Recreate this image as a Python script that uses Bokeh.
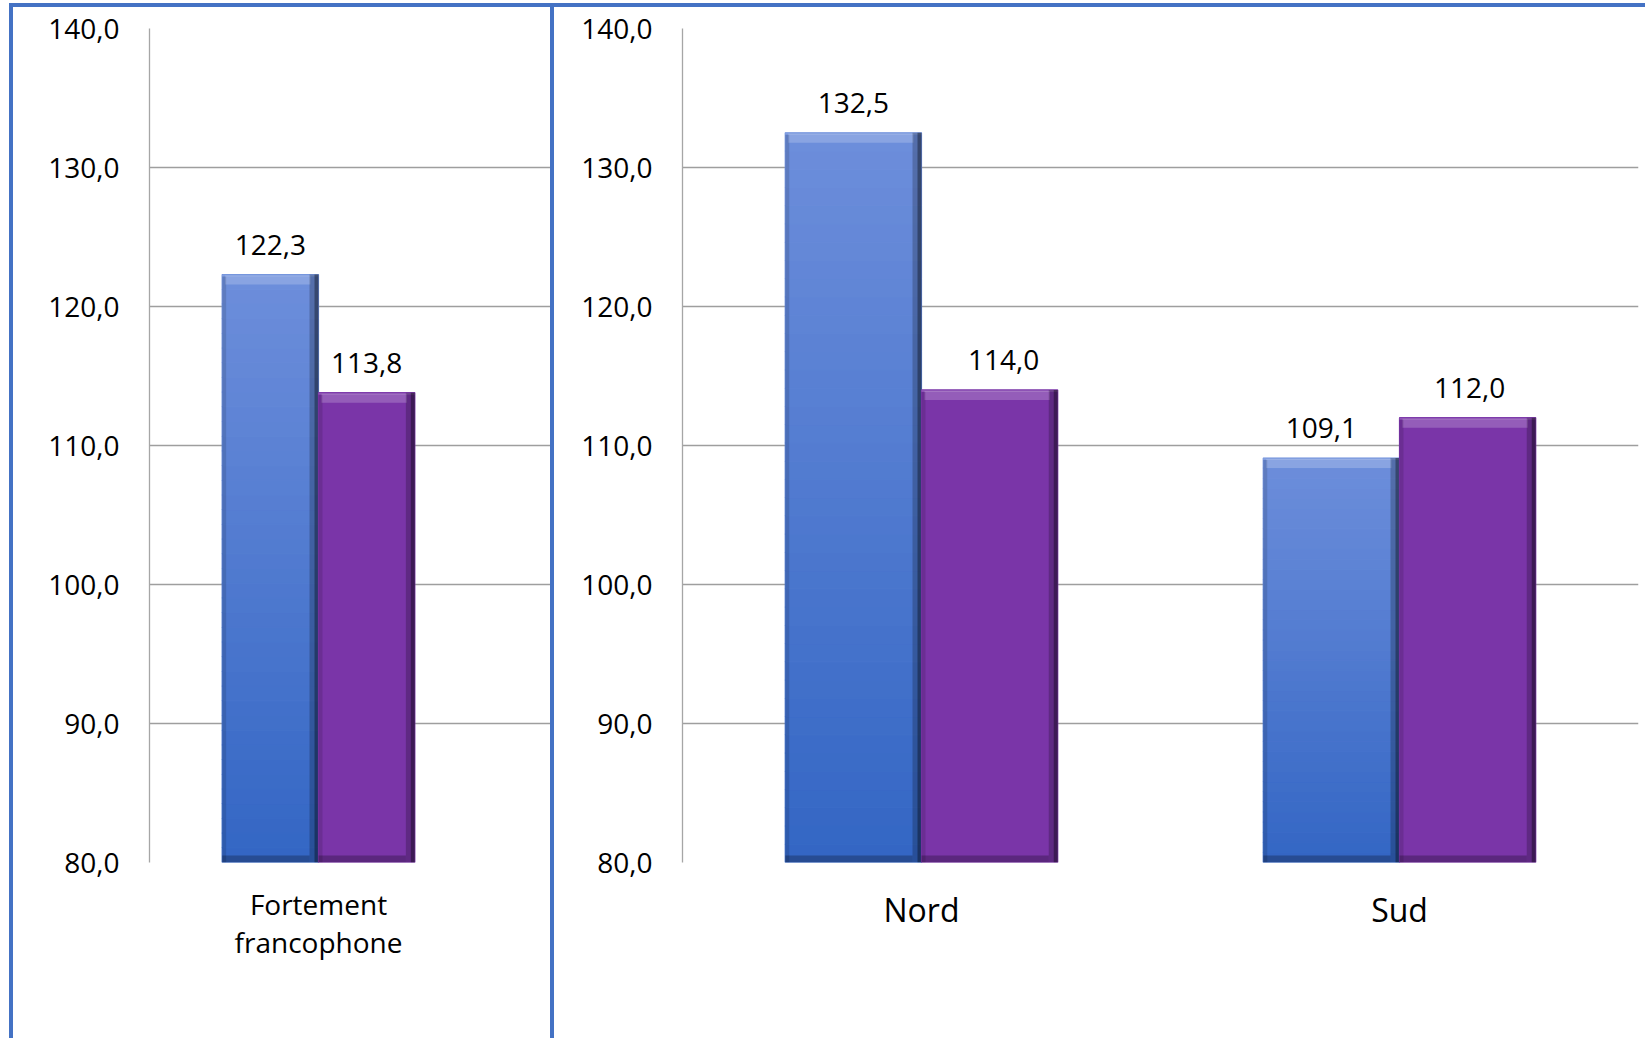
from bokeh.plotting import figure
from bokeh.layouts import row
from bokeh.models import Range1d, FixedTicker, InlineStyleSheet
from bokeh.core.properties import value
from bokeh.embed import file_html
from bokeh.resources import INLINE

# ---------------- data ----------------
left_categories = ["Fortement\nfrancophone"]
right_categories = ["Nord", "Sud"]
left_series_blue = [122.3]
left_series_purple = [113.8]
right_series_blue = [132.5, 109.1]
right_series_purple = [114.0, 112.0]
y_ticks = [80, 90, 100, 110, 120, 130, 140]
y_tick_labels = ["80,0", "90,0", "100,0", "110,0", "120,0", "130,0", "140,0"]
Y_MIN, Y_MAX = 80, 140

# label nudges (pixels): blue labels then purple labels
left_label_dx = [0, 0]
right_label_dx = [0, -10, 14, 2]

FONT = "Open Sans"
FIG_H = 1038
TOP_B = 28
BOT_B = 176
FRAME_H = FIG_H - TOP_B - BOT_B
PPU_Y = FRAME_H / (Y_MAX - Y_MIN)
BAR_W = 0.285
BORDER = "#4472C4"


def hexrgb(h):
    h = h.lstrip("#")
    return tuple(int(h[i:i + 2], 16) for i in (0, 2, 4))


def lerp(c1, c2, t):
    a, b = hexrgb(c1), hexrgb(c2)
    return "#%02x%02x%02x" % tuple(int(round(a[i] + (b[i] - a[i]) * t)) for i in range(3))


def draw_bars(p, lefts, tops, ppu_x, bottom_col, top_col, nstrip):
    L, R, B, T, C = [], [], [], [], []
    for xl, tv in zip(lefts, tops):
        for k in range(nstrip):
            L.append(xl)
            R.append(xl + BAR_W)
            B.append(Y_MIN + (tv - Y_MIN) * k / nstrip)
            T.append(Y_MIN + (tv - Y_MIN) * (k + 1) / nstrip)
            C.append(lerp(bottom_col, top_col, (k + 0.5) / nstrip))
    p.quad(left=L, right=R, bottom=B, top=T, fill_color=C, line_color=C, line_width=1.2)
    dx = 1.0 / ppu_x
    dy = 1.0 / PPU_Y
    for xl, tv in zip(lefts, tops):
        xr = xl + BAR_W
        # top highlight bevel
        p.quad(left=[xl + 3 * dx], right=[xr - 8 * dx], bottom=[tv - 10 * dy], top=[tv - 1 * dy],
               fill_color="white", fill_alpha=0.2, line_color=None)
        p.quad(left=[xl], right=[xr], bottom=[tv - 2 * dy], top=[tv],
               fill_color="white", fill_alpha=0.15, line_color=None)
        # left edge shade
        p.quad(left=[xl], right=[xl + 4 * dx], bottom=[Y_MIN], top=[tv - 2 * dy],
               fill_color="black", fill_alpha=0.12, line_color=None)
        # right edge shade
        p.quad(left=[xr - 9 * dx], right=[xr], bottom=[Y_MIN], top=[tv],
               fill_color="black", fill_alpha=0.22, line_color=None)
        p.quad(left=[xr - 4 * dx], right=[xr], bottom=[Y_MIN], top=[tv],
               fill_color="black", fill_alpha=0.35, line_color=None)
        # bottom shade
        p.quad(left=[xl], right=[xr - 9 * dx], bottom=[Y_MIN], top=[Y_MIN + 7 * dy],
               fill_color="black", fill_alpha=0.25, line_color=None)


def fmt(v):
    return ("%.1f" % v).replace(".", ",")


def make_panel(categories, blue, purple, width, bl, br, x_end, cat_size, cat_standoff, label_dx):
    p = figure(width=width, height=FIG_H, output_backend="svg", toolbar_location=None,
               x_range=Range1d(0, x_end), y_range=Range1d(Y_MIN, Y_MAX),
               min_border_left=bl, min_border_right=br, min_border_top=TOP_B,
               min_border_bottom=BOT_B, outline_line_color=None,
               background_fill_color="white", border_fill_color="white")
    frame_w = width - bl - br
    ppu_x = frame_w / x_end
    centers = [i + 0.5 for i in range(len(categories))]
    blue_left = [c - BAR_W for c in centers]
    purple_left = centers
    draw_bars(p, blue_left, blue, ppu_x, "#3366c4", "#6d8edb", 40)
    draw_bars(p, purple_left, purple, ppu_x, "#7733a6", "#7c37aa", 1)

    lx = [c - BAR_W / 2 for c in centers] + [c + BAR_W / 2 for c in centers]
    ly = list(blue) + list(purple)
    lt = [fmt(v) for v in ly]
    p.text(x=lx, y=ly, text=lt, x_offset=label_dx, text_font=value(FONT),
           text_font_size="28px", text_align="center", text_baseline="middle",
           y_offset=-30, text_color="black")

    ya = p.yaxis[0]
    ya.ticker = FixedTicker(ticks=y_ticks)
    ya.major_label_overrides = {t: s for t, s in zip(y_ticks, y_tick_labels)}
    ya.major_label_text_font = FONT
    ya.major_label_text_font_size = "28px"
    ya.major_label_text_color = "black"
    ya.major_tick_line_color = None
    ya.minor_tick_line_color = None
    ya.major_tick_out = 0
    ya.major_tick_in = 0
    ya.major_label_standoff = 30
    ya.axis_line_color = "#a6a6a6"
    ya.axis_line_width = 1.3

    xa = p.xaxis[0]
    xa.ticker = FixedTicker(ticks=centers)
    xa.major_label_overrides = {c: n for c, n in zip(centers, categories)}
    xa.major_label_text_font = FONT
    xa.major_label_text_font_size = cat_size
    xa.major_label_text_color = "black"
    xa.major_label_text_line_height = 1.0
    xa.major_tick_line_color = None
    xa.minor_tick_line_color = None
    xa.major_tick_out = 0
    xa.major_tick_in = 0
    xa.major_label_standoff = cat_standoff
    xa.axis_line_color = None

    p.xgrid.grid_line_color = None
    p.ygrid.ticker = FixedTicker(ticks=y_ticks)
    p.ygrid.grid_line_color = "#9e9e9e"
    p.ygrid.grid_line_width = 1.3
    p.ygrid.level = "underlay"
    return p


p1 = make_panel(left_categories, left_series_blue, left_series_purple,
                552, 149, 0, 403 / 338.0, "28px", 22, left_label_dx)
p2 = make_panel(right_categories, right_series_blue, right_series_purple,
                1093, 130, 7, 2.0, "32px", 25, right_label_dx)

css_left = InlineStyleSheet(css="""
:host { position: relative; }
:host::after { content: ''; position: absolute; left: 9px; top: 3px; right: 0px; bottom: -20px;
  border-left: 4px solid %s; border-top: 4px solid %s; border-right: 2px solid %s;
  box-sizing: border-box; pointer-events: none; z-index: 10; }
""" % (BORDER, BORDER, BORDER))
css_right = InlineStyleSheet(css="""
:host { position: relative; }
:host::after { content: ''; position: absolute; left: 0px; top: 3px; right: -20px; bottom: -20px;
  border-left: 2px solid %s; border-top: 4px solid %s;
  box-sizing: border-box; pointer-events: none; z-index: 10; }
""" % (BORDER, BORDER))
p1.stylesheets = [css_left]
p2.stylesheets = [css_right]

layout = row(p1, p2, spacing=0)
open("out.html", "w").write(file_html(layout, INLINE))
